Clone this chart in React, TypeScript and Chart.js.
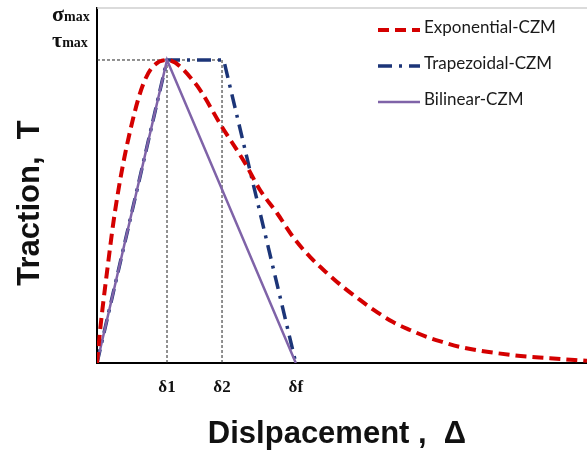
import React, { useEffect, useRef } from "react";
import { Chart, registerables } from "chart.js";

Chart.register(...registerables);

// Exponential CZM curve (x in units of δ1, y in units of peak)
const expX = [0, 0.05, 0.143, 0.257, 0.429, 0.686, 1.0, 1.4, 1.786, 2.114, 2.329, 2.571, 2.8, 3.043, 3.286, 3.514, 3.757, 4.0, 4.229, 4.471, 4.714, 4.943, 5.186, 5.943, 6.47, 7.0];
const expY = [0, 0.12, 0.3, 0.5, 0.72, 0.935, 1.0, 0.924, 0.779, 0.66, 0.571, 0.495, 0.416, 0.35, 0.297, 0.251, 0.208, 0.168, 0.135, 0.109, 0.086, 0.069, 0.053, 0.026, 0.016, 0.007];

// Trapezoidal CZM
const trapX = [0, 1.0, 1.81, 2.84];
const trapY = [0, 1, 1, 0];

// Bilinear CZM
const biX = [0, 1.0, 2.84];
const biY = [0, 1, 0];

// x tick positions and labels
const tickValues = [1.0, 1.786, 2.84];
const tickLabels = ["δ1", "δ2", "δf"];

// y-axis stress labels
const stressLevels = [1.145, 1.06];
const stressSymbols = ["σ", "τ"];
const stressSub = "max";

const seriesNames = ["Exponential-CZM", "Trapezoidal-CZM", "Bilinear-CZM"];
const colors = ["#d40000", "#1c3578", "#7f63a8"];
const dashes = [[11, 6], [14, 7, 3, 7], []];
const widths = [4, 3.5, 2.5];

const X_MAX = 7;
const Y_MAX = 1.1716;

const zip = (xs: number[], ys: number[]) => xs.map((x, i) => ({ x, y: ys[i] }));

export default function App() {
  const ref = useRef<HTMLCanvasElement | null>(null);

  useEffect(() => {
    document.body.style.margin = "0";
    const canvas = ref.current;
    if (!canvas) return;

    const overlay = {
      id: "overlay",
      afterDraw(chart: any) {
        const ctx = chart.ctx;
        const area = chart.chartArea;
        const ys = chart.scales.y;
        ctx.save();
        // top thin gray line
        ctx.strokeStyle = "#cfcfcf";
        ctx.lineWidth = 1.5;
        ctx.beginPath();
        ctx.moveTo(area.left, area.top);
        ctx.lineTo(area.right, area.top);
        ctx.stroke();

        // stress labels
        ctx.fillStyle = "#111";
        ctx.textBaseline = "alphabetic";
        stressLevels.forEach((lv, i) => {
          const py = ys.getPixelForValue(lv);
          ctx.font = "bold 22px 'Liberation Serif', serif";
          ctx.textAlign = "left";
          const sx = 52;
          ctx.fillText(stressSymbols[i], sx, py + 5);
          const w = ctx.measureText(stressSymbols[i]).width;
          ctx.font = "bold 14px 'Liberation Serif', serif";
          ctx.fillText(stressSub, sx + w, py + 5);
        });

        // axis titles
        ctx.fillStyle = "#111";
        ctx.font = "bold 31px 'Liberation Sans', Arial, sans-serif";
        ctx.textAlign = "center";
        ctx.textBaseline = "middle";
        ctx.fillText("Dislpacement ,  Δ", 337, 434);
        ctx.save();
        ctx.translate(30, 203);
        ctx.rotate(-Math.PI / 2);
        ctx.fillText("Traction,  T", 0, 0);
        ctx.restore();

        // legend
        const rows = [28, 64, 100];
        ctx.font = "17px Lato, 'Open Sans', sans-serif";
        ctx.textAlign = "left";
        ctx.textBaseline = "middle";
        seriesNames.forEach((name, i) => {
          const y = rows[i];
          ctx.strokeStyle = colors[i];
          ctx.lineWidth = widths[i];
          ctx.setLineDash(dashes[i]);
          ctx.beginPath();
          ctx.moveTo(378, y + 2);
          ctx.lineTo(420, y + 2);
          ctx.stroke();
          ctx.setLineDash([]);
          ctx.fillStyle = "#1a1a1a";
          ctx.fillText(name, 424, y);
        });
        ctx.restore();
      },
    };

    const guideStyle = {
      borderColor: "#222",
      borderWidth: 1,
      borderDash: [3, 2],
      pointRadius: 0,
      fill: false,
      order: 5,
    };

    const chart = new Chart(canvas, {
      type: "line",
      data: {
        datasets: [
          {
            label: seriesNames[0],
            data: zip(expX, expY),
            borderColor: colors[0],
            borderWidth: widths[0],
            borderDash: dashes[0],
            pointRadius: 0,
            cubicInterpolationMode: "monotone",
            fill: false,
            order: 0,
          },
          {
            label: seriesNames[1],
            data: zip(trapX, trapY),
            borderColor: colors[1],
            borderWidth: widths[1],
            borderDash: dashes[1],
            pointRadius: 0,
            tension: 0,
            fill: false,
            order: 2,
          },
          {
            label: seriesNames[2],
            data: zip(biX, biY),
            borderColor: colors[2],
            borderWidth: widths[2],
            pointRadius: 0,
            tension: 0,
            fill: false,
            order: 1,
          },
          { ...guideStyle, label: "g1", data: [{ x: 0, y: 1 }, { x: tickValues[1], y: 1 }] },
          { ...guideStyle, label: "g2", data: [{ x: tickValues[0], y: 0 }, { x: tickValues[0], y: 1 }] },
          { ...guideStyle, label: "g3", data: [{ x: tickValues[1], y: 0 }, { x: tickValues[1], y: 1 }] },
        ] as any,
      },
      options: {
        animation: false,
        responsive: false,
        layout: { padding: { top: 8, right: 0, left: 0, bottom: 0 } },
        plugins: { legend: { display: false }, tooltip: { enabled: false } },
        scales: {
          x: {
            type: "linear",
            min: 0,
            max: X_MAX,
            grid: { display: false, drawTicks: false },
            border: { display: true, color: "#000", width: 2 },
            afterBuildTicks: (scale: any) => {
              scale.ticks = tickValues.map((v) => ({ value: v }));
            },
            afterFit: (scale: any) => {
              scale.height = 94;
            },
            ticks: {
              autoSkip: false,
              maxRotation: 0,
              padding: 14,
              color: "#111",
              font: { family: "'Liberation Serif', serif", size: 17, weight: "bold" },
              callback: (_v: any, i: number) => tickLabels[i],
            },
          },
          y: {
            type: "linear",
            min: 0,
            max: Y_MAX,
            grid: { display: false, drawTicks: false },
            border: { display: true, color: "#000", width: 2 },
            ticks: { display: false },
            afterFit: (scale: any) => {
              scale.width = 97;
            },
          },
        },
      },
      plugins: [overlay],
    });

    return () => chart.destroy();
  }, []);

  return <canvas ref={ref} width={587} height={457} />;
}
